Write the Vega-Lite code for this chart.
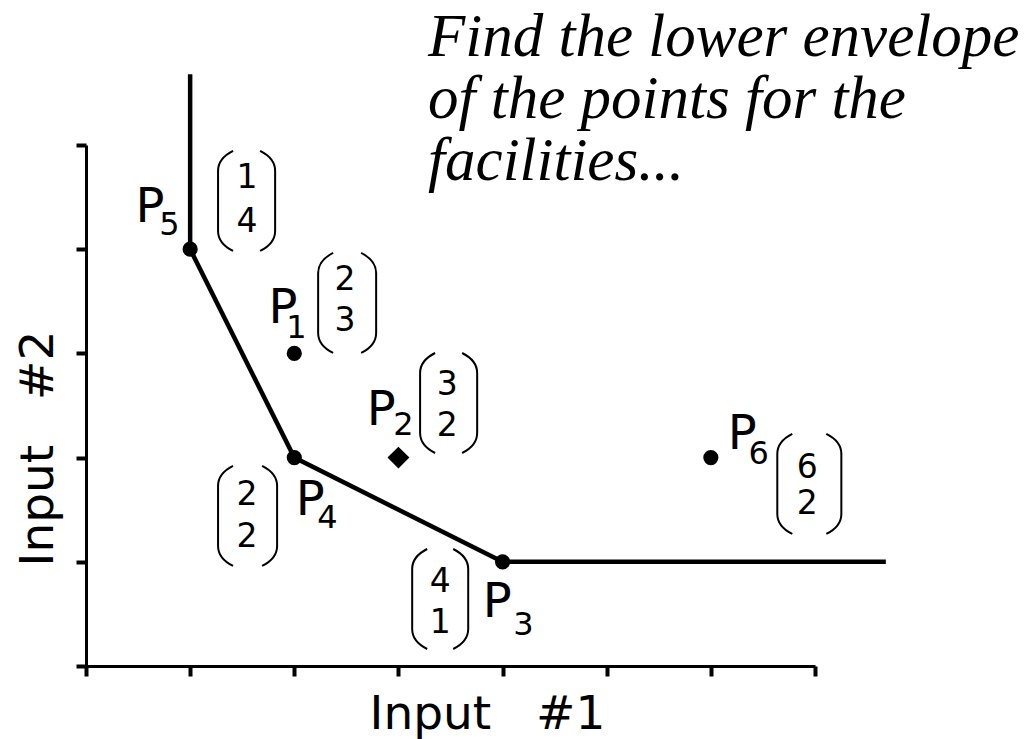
{
  "$schema": "https://vega.github.io/schema/vega-lite/v6.json",
  "width": 729,
  "height": 521,
  "autosize": {"type": "none"},
  "padding": {"left": 86, "top": 145, "right": 210, "bottom": 73},
  "background": "white",
  "config": {
    "view": {"stroke": null},
    "axis": {
      "grid": false,
      "labels": false,
      "domainColor": "black",
      "domainWidth": 3,
      "tickColor": "black",
      "tickWidth": 4,
      "tickSize": 10,
      "titleFont": "DejaVu Sans",
      "titleFontSize": 47,
      "titleFontWeight": "normal",
      "titleColor": "black"
    }
  },
  "datasets": {
    "envelope": [
      {"i": 0, "x": 1, "y": 5.68},
      {"i": 1, "x": 1, "y": 4},
      {"i": 2, "x": 2, "y": 2},
      {"i": 3, "x": 4, "y": 1},
      {"i": 4, "x": 7.68, "y": 1}
    ],
    "facilities": [
      {"name": "P1", "x": 2, "y": 3},
      {"name": "P2", "x": 3, "y": 2},
      {"name": "P3", "x": 4, "y": 1},
      {"name": "P4", "x": 2, "y": 2},
      {"name": "P5", "x": 1, "y": 4},
      {"name": "P6", "x": 6, "y": 2}
    ],
    "pLabels": [
      {"text": "P", "x": 0.615, "y": 4.261},
      {"text": "P", "x": 1.892, "y": 3.292},
      {"text": "P", "x": 2.834, "y": 2.313},
      {"text": "P", "x": 2.152, "y": 1.449},
      {"text": "P", "x": 3.948, "y": 0.47},
      {"text": "P", "x": 6.302, "y": 2.083}
    ],
    "subscripts": [
      {"text": "5", "x": 0.8, "y": 4.136},
      {"text": "1", "x": 2.02, "y": 3.148},
      {"text": "2", "x": 3.048, "y": 2.217},
      {"text": "4", "x": 2.317, "y": 1.324},
      {"text": "3", "x": 4.2, "y": 0.298},
      {"text": "6", "x": 6.458, "y": 1.939}
    ],
    "vectorDigits": [
      {"text": "1", "x": 1.547, "y": 4.683},
      {"text": "4", "x": 1.547, "y": 4.261},
      {"text": "2", "x": 2.488, "y": 3.704},
      {"text": "3", "x": 2.488, "y": 3.311},
      {"text": "3", "x": 3.468, "y": 2.697},
      {"text": "2", "x": 3.468, "y": 2.303},
      {"text": "2", "x": 1.547, "y": 1.641},
      {"text": "2", "x": 1.547, "y": 1.238},
      {"text": "4", "x": 3.401, "y": 0.806},
      {"text": "1", "x": 3.401, "y": 0.413},
      {"text": "6", "x": 6.926, "y": 1.9},
      {"text": "2", "x": 6.926, "y": 1.555}
    ],
    "brackets": [
      {"side": "left", "x": 1.268, "y": 4.463},
      {"side": "right", "x": 1.816, "y": 4.463},
      {"side": "left", "x": 2.229, "y": 3.484},
      {"side": "right", "x": 2.786, "y": 3.484},
      {"side": "left", "x": 3.208, "y": 2.524},
      {"side": "right", "x": 3.756, "y": 2.524},
      {"side": "left", "x": 1.268, "y": 1.44},
      {"side": "right", "x": 1.835, "y": 1.44},
      {"side": "left", "x": 3.132, "y": 0.643},
      {"side": "right", "x": 3.67, "y": 0.643},
      {"side": "left", "x": 6.638, "y": 1.747},
      {"side": "right", "x": 7.253, "y": 1.747}
    ],
    "caption": [
      {"text": "Find the lower envelope", "x": 3.285, "y": 5.854},
      {"text": "of the points for the", "x": 3.285, "y": 5.259},
      {"text": "facilities...", "x": 3.285, "y": 4.664}
    ]
  },
  "encoding": {
    "x": {
      "field": "x",
      "type": "quantitative",
      "scale": {"domain": [0, 7], "nice": false, "zero": false},
      "axis": {
        "values": [0, 1, 2, 3, 4, 5, 6, 7],
        "title": "Input\u00a0\u00a0\u00a0#1",
        "titleX": 401,
        "titleY": 62,
        "titleAlign": "center",
        "titleBaseline": "alphabetic"
      }
    },
    "y": {
      "field": "y",
      "type": "quantitative",
      "scale": {"domain": [0, 5], "nice": false, "zero": false},
      "axis": {
        "values": [0, 1, 2, 3, 4, 5],
        "title": "Input\u00a0\u00a0\u00a0#2",
        "titleX": -34,
        "titleY": 303,
        "titleAngle": -90,
        "titleAlign": "center",
        "titleBaseline": "alphabetic"
      }
    }
  },
  "layer": [
    {
      "data": {"name": "envelope"},
      "mark": {"type": "line", "color": "black", "strokeWidth": 4.5},
      "encoding": {"order": {"field": "i", "type": "quantitative"}}
    },
    {
      "data": {"name": "facilities"},
      "transform": [{"filter": "datum.name !== 'P2'"}],
      "mark": {"type": "point", "shape": "circle", "filled": true, "color": "black", "opacity": 1, "size": 230}
    },
    {
      "data": {"name": "facilities"},
      "transform": [{"filter": "datum.name === 'P2'"}],
      "mark": {"type": "point", "shape": "diamond", "filled": true, "color": "black", "opacity": 1, "size": 480}
    },
    {
      "data": {"name": "brackets"},
      "mark": {"type": "point", "filled": false, "color": "black", "opacity": 1, "strokeWidth": 2, "size": 10000},
      "encoding": {
        "shape": {
          "field": "side",
          "type": "nominal",
          "scale": {
            "domain": ["left", "right"],
            "range": [
              "M 0.3 -1 Q 0 -0.85 0 -0.6 L 0 0.6 Q 0 0.85 0.3 1",
              "M -0.3 -1 Q 0 -0.85 0 -0.6 L 0 0.6 Q 0 0.85 -0.3 1"
            ]
          },
          "legend": null
        }
      }
    },
    {
      "data": {"name": "pLabels"},
      "mark": {"type": "text", "font": "DejaVu Sans", "fontSize": 48, "color": "black", "align": "center", "baseline": "alphabetic"},
      "encoding": {"text": {"field": "text"}}
    },
    {
      "data": {"name": "subscripts"},
      "mark": {"type": "text", "font": "DejaVu Sans", "fontSize": 32, "color": "black", "align": "center", "baseline": "alphabetic"},
      "encoding": {"text": {"field": "text"}}
    },
    {
      "data": {"name": "vectorDigits"},
      "mark": {"type": "text", "font": "DejaVu Sans", "fontSize": 33, "color": "black", "align": "center", "baseline": "middle"},
      "encoding": {"text": {"field": "text"}}
    },
    {
      "data": {"name": "caption"},
      "mark": {"type": "text", "font": "Liberation Serif", "fontStyle": "italic", "fontSize": 61, "color": "black", "align": "left", "baseline": "alphabetic"},
      "encoding": {"text": {"field": "text"}}
    }
  ]
}
